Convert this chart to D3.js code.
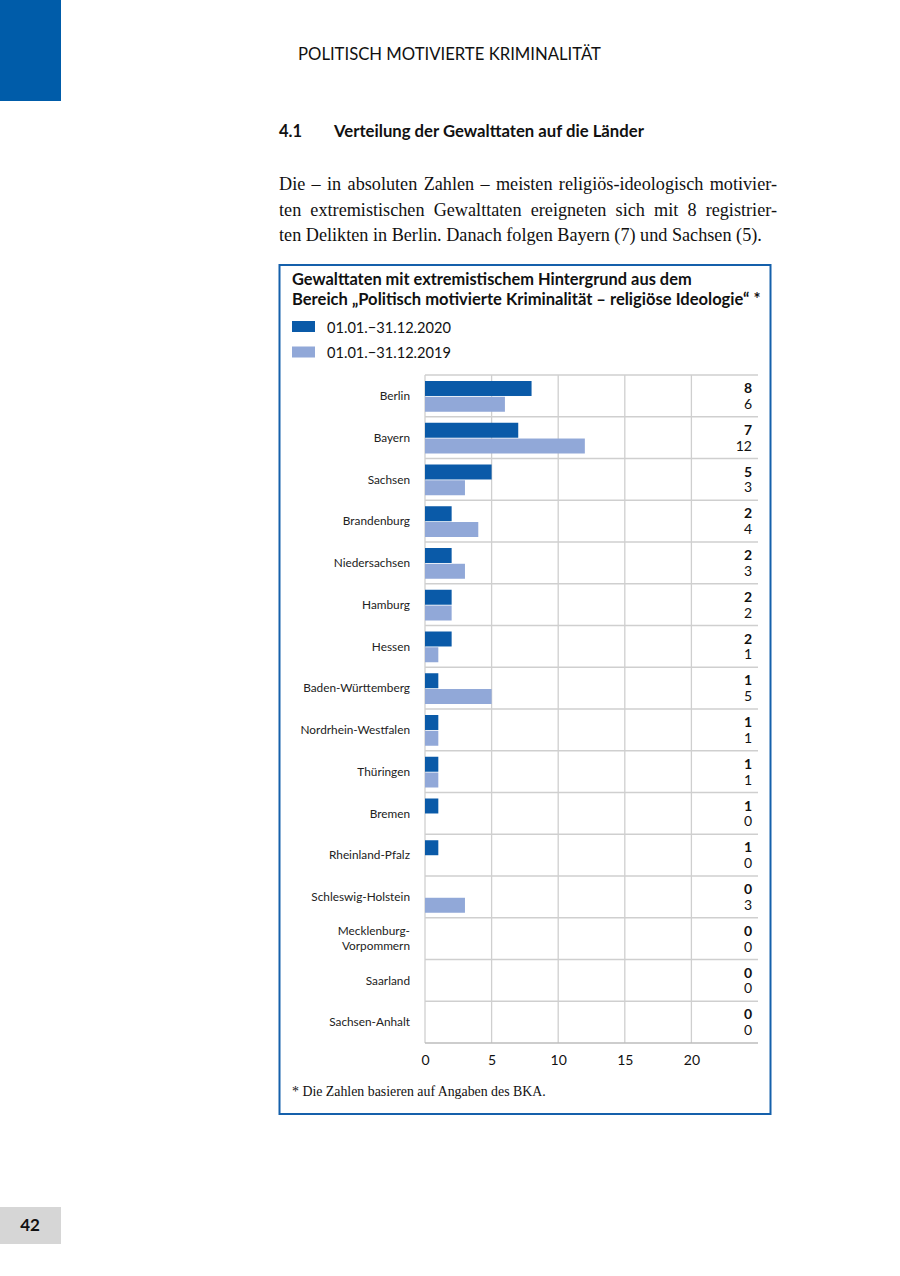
<!DOCTYPE html>
<html><head><meta charset="utf-8">
<script src="https://cdn.jsdelivr.net/npm/d3@7"></script>
<style>
html,body{margin:0;padding:0;background:#fff;}
svg{display:block;}
</style>
</head><body>
<svg id="page" width="900" height="1276"></svg>
<script>
const categories = ["Berlin","Bayern","Sachsen","Brandenburg","Niedersachsen","Hamburg","Hessen","Baden-Württemberg","Nordrhein-Westfalen","Thüringen","Bremen","Rheinland-Pfalz","Schleswig-Holstein","Mecklenburg-\nVorpommern","Saarland","Sachsen-Anhalt"];
const series = ["01.01.\u221231.12.2020","01.01.\u221231.12.2019"];
const values2020 = [8,7,5,2,2,2,2,1,1,1,1,1,0,0,0,0];
const values2019 = [6,12,3,4,3,2,1,5,1,1,0,0,3,0,0,0];
const xTicks = [0,5,10,15,20];
const colors = ["#0a5aa8","#91a8d8"];

const sans = "Lato,'Open Sans',sans-serif";
const serif = "'Liberation Serif','DejaVu Serif',serif";
const svg = d3.select("#page");

function fit(t, target){
  const fs = +t.attr("font-size");
  const w = t.node().getComputedTextLength();
  const nfs = fs*target/w;
  t.attr("font-size", nfs);
  return nfs;
}

svg.append("rect").attr("x",0).attr("y",0).attr("width",61).attr("height",101).attr("fill","#005ca9");
svg.append("rect").attr("x",0).attr("y",1207).attr("width",61).attr("height",37).attr("fill","#d6d6d6");
svg.append("text").attr("x",30).attr("y",1231).attr("text-anchor","middle")
  .attr("font-family",sans).attr("font-weight",700).attr("font-size",17).attr("fill","#111").text("42");

fit(svg.append("text").attr("x",298).attr("y",60).attr("font-family",sans).attr("font-size",16)
  .attr("fill","#111").text("POLITISCH MOTIVIERTE KRIMINALITÄT"), 303);

svg.append("text").attr("x",279).attr("y",137).attr("font-family",sans).attr("font-weight",700)
  .attr("font-size",16.5).attr("fill","#111").text("4.1");
fit(svg.append("text").attr("x",334).attr("y",137).attr("font-family",sans).attr("font-weight",700)
  .attr("font-size",16).attr("fill","#111")
  .text("Verteilung der Gewalttaten auf die Länder"), 310);

const paraLines = [
  "Die – in absoluten Zahlen – meisten religiös-ideologisch motivier-",
  "ten extremistischen Gewalttaten ereigneten sich mit 8 registrier-",
  "ten Delikten in Berlin. Danach folgen Bayern (7) und Sachsen (5)."
];
const pts = paraLines.map((l,i)=> svg.append("text").attr("x",279).attr("y",190+i*25.5).attr("font-family",serif)
    .attr("font-size",19).attr("fill","#111").text(l));
const pfs = fit(pts[2], 483);
pts.forEach((t,i)=>{
  t.attr("font-size", pfs);
  if(i<2){
    const w = t.node().getComputedTextLength();
    const spaces = (paraLines[i].match(/ /g)||[]).length;
    t.attr("word-spacing", (498 - w)/spaces);
  }
});

svg.append("rect").attr("x",279.5).attr("y",265).attr("width",491).attr("height",849)
  .attr("fill","none").attr("stroke","#1560ab").attr("stroke-width",2);

fit(svg.append("text").attr("x",292).attr("y",285).attr("font-family",sans).attr("font-weight",700)
  .attr("font-size",16).attr("fill","#111").text("Gewalttaten mit extremistischem Hintergrund aus dem"), 400);
fit(svg.append("text").attr("x",292).attr("y",305).attr("font-family",sans).attr("font-weight",700)
  .attr("font-size",16).attr("fill","#111")
  .text("Bereich „Politisch motivierte Kriminalität – religiöse Ideologie“ *"), 469);

const leg = svg.append("g");
series.forEach((s,i)=>{
  leg.append("rect").attr("x",292).attr("y",321+i*25.5).attr("width",23).attr("height",11).attr("fill",colors[i]);
  fit(leg.append("text").attr("x",327).attr("y",332.5+i*25.5).attr("font-family",sans).attr("font-size",15)
    .attr("fill","#111").text(s), 124);
});

const x = d3.scaleLinear().domain([0,25]).range([425,758]);
const y = d3.scaleBand().domain(categories).range([375,1043]);
const sub = d3.scaleBand().domain([0,1]).range([6, y.bandwidth()-5]).paddingInner(0.05);

const g = svg.append("g");
g.selectAll("line.v").data(xTicks).join("line")
  .attr("x1",d=>x(d)).attr("x2",d=>x(d)).attr("y1",375).attr("y2",1043)
  .attr("stroke","#cfcfcf").attr("stroke-width",1.3);
const bounds = categories.map(c=>y(c)).concat([1043]);
g.selectAll("line.h").data(bounds).join("line")
  .attr("x1",x(0)).attr("x2",758).attr("y1",d=>d).attr("y2",d=>d)
  .attr("stroke",(d,i)=> i===bounds.length-1 ? "#bdbdbd" : "#cfcfcf").attr("stroke-width",1.3);

const probe = svg.append("text").attr("font-family",sans).attr("font-size",12).text("Baden-Württemberg");
const catFs = fit(probe, 107); probe.remove();

const rows = categories.map((c,i)=>({c, v:[values2020[i], values2019[i]]}));
const rowG = g.selectAll("g.row").data(rows).join("g").attr("transform",d=>`translate(0,${y(d.c)})`);
rowG.selectAll("rect").data(d=>d.v.map((v,k)=>({v,k}))).join("rect")
  .attr("x",x(0)).attr("y",d=>sub(d.k)).attr("width",d=>x(d.v)-x(0)).attr("height",sub.bandwidth())
  .attr("fill",d=>colors[d.k]);
rowG.selectAll("text.val").data(d=>d.v.map((v,k)=>({v,k}))).join("text")
  .attr("x",752).attr("y",d=>sub(d.k)+sub.bandwidth()/2).attr("dy","0.33em").attr("text-anchor","end")
  .attr("font-family",sans).attr("font-size",14).attr("font-weight",d=>d.k===0?700:400).attr("fill","#111")
  .text(d=>d.v);
rowG.each(function(d){
  const lines = d.c.split("\n");
  const t = d3.select(this).append("text").attr("x",410).attr("text-anchor","end")
    .attr("font-family",sans).attr("font-size",catFs).attr("fill","#222");
  lines.forEach((ln,j)=>{
    t.append("tspan").attr("x",410)
      .attr("y", y.bandwidth()/2 + (j - (lines.length-1)/2)*15).attr("dy","0.35em").text(ln);
  });
});

const xAxis = d3.axisBottom(x).tickValues(xTicks).tickSize(0).tickPadding(12);
const ax = svg.append("g").attr("transform","translate(0,1043)").call(xAxis);
ax.select(".domain").remove();
ax.selectAll("text").attr("font-family",sans).attr("font-size",14).attr("fill","#111");

fit(svg.append("text").attr("x",292).attr("y",1096).attr("font-family",serif).attr("font-size",15)
  .attr("fill","#111").text("*  Die Zahlen basieren auf Angaben des BKA."), 254);
</script>
</body></html>
